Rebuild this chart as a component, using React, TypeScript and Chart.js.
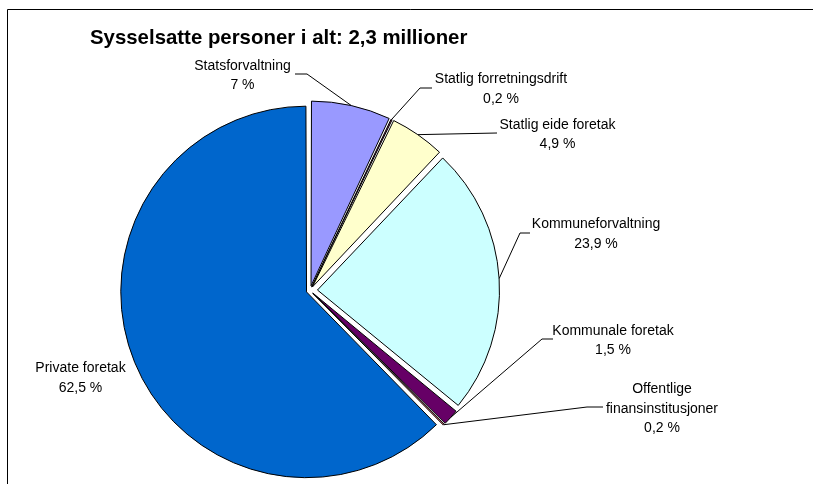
import React, { useEffect, useRef } from "react";
import { Chart, registerables } from "chart.js";

Chart.register(...registerables);

const TITLE = "Sysselsatte personer i alt: 2,3 millioner";
const categories = [
  "Statsforvaltning",
  "Statlig forretningsdrift",
  "Statlig eide foretak",
  "Kommuneforvaltning",
  "Kommunale foretak",
  "Offentlige finansinstitusjoner",
  "Private foretak",
];
const shares = [7, 0.2, 4.9, 23.9, 1.5, 0.2, 62.5];
const labelText = [
  ["Statsforvaltning"],
  ["Statlig forretningsdrift"],
  ["Statlig eide foretak"],
  ["Kommuneforvaltning"],
  ["Kommunale foretak"],
  ["Offentlige", "finansinstitusjoner"],
  ["Private foretak"],
];
const colors = ["#9999FF", "#993366", "#FFFFCC", "#CCFFFF", "#660066", "#FF8080", "#0066CC"];

// layout (label anchor positions and leader elbows)
const labelLayout = [
  { x: 242.5, y: 70, lh: 18.5, leader: [[295, 74], [307, 74]] },
  { x: 501, y: 83, lh: 20, leader: [[432, 88], [420, 88]] },
  { x: 557.5, y: 129, lh: 19, leader: [[497, 133]] },
  { x: 596, y: 228, lh: 20, leader: [[530, 233], [520, 233]] },
  { x: 613, y: 335, lh: 19, leader: [[553, 339], [542, 339]] },
  { x: 662, y: 393, lh: 19.5, leader: [[603, 407], [587, 407]] },
  { x: 80.5, y: 372, lh: 20, leader: [] },
];
const SHIFT = 7.5;
const FONT = '"Liberation Sans", Arial, sans-serif';

const fmt = (v: number) => String(v).replace(".", ",") + " %";

export default function App() {
  const ref = useRef<HTMLCanvasElement | null>(null);
  useEffect(() => {
    if (!ref.current) return;
    const total = shares.reduce((a, b) => a + b, 0);
    const overlay = {
      id: "overlay",
      afterDraw(chart: any) {
        const ctx = chart.ctx;
        ctx.save();
        // frame
        ctx.strokeStyle = "#000";
        ctx.lineWidth = 1;
        ctx.beginPath();
        ctx.moveTo(7.5, 484);
        ctx.lineTo(7.5, 9.5);
        ctx.lineTo(813, 9.5);
        ctx.stroke();
        // title
        ctx.fillStyle = "#000";
        ctx.font = `bold 20.4px ${FONT}`;
        ctx.textAlign = "left";
        ctx.textBaseline = "alphabetic";
        ctx.fillText(TITLE, 90, 44);
        // leaders & labels
        const meta = chart.getDatasetMeta(0);
        meta.data.forEach((arc: any, i: number) => {
          const L = labelLayout[i];
          const mid = (arc.startAngle + arc.endAngle) / 2;
          const circ = arc.endAngle - arc.startAngle;
          const off = (arc.options.offset || 0) / 4;
          const fix = 1 - Math.sin(Math.min(Math.PI, circ));
          const t = off + off * fix;
          const px = arc.x + Math.cos(mid) * (t + arc.outerRadius);
          const py = arc.y + Math.sin(mid) * (t + arc.outerRadius);
          if (L.leader.length) {
            ctx.strokeStyle = "#000";
            ctx.lineWidth = 1;
            ctx.beginPath();
            ctx.moveTo(L.leader[0][0], L.leader[0][1]);
            for (let k = 1; k < L.leader.length; k++) ctx.lineTo(L.leader[k][0], L.leader[k][1]);
            ctx.lineTo(px, py);
            ctx.stroke();
          }
          ctx.font = `14px ${FONT}`;
          ctx.textAlign = "center";
          ctx.fillStyle = "#000";
          const lines = [...labelText[i], fmt(shares[i])];
          lines.forEach((s, k) => ctx.fillText(s, L.x, L.y + k * L.lh));
        });
        ctx.restore();
      },
    };
    const chart = new Chart(ref.current, {
      type: "pie",
      data: {
        labels: categories,
        datasets: [
          {
            data: shares,
            backgroundColor: colors,
            borderColor: "#000",
            borderWidth: 1,
            radius: 182,
            clip: false,
            hoverOffset: 0,
            offset: (c: any) => {
              const v = c.dataset.data[c.dataIndex];
              const circ = (v / total) * Math.PI * 2;
              const fix = 1 - Math.sin(Math.min(Math.PI, circ));
              return (SHIFT * 4) / (1 + fix);
            },
          } as any,
        ],
      },
      options: {
        responsive: false,
        animation: false,
        events: [],
        radius: 182,
        layout: { padding: { left: 0, right: 193, top: 97, bottom: 0 } },
        plugins: { legend: { display: false }, tooltip: { enabled: false }, title: { display: false } },
      } as any,
      plugins: [overlay],
    });
    return () => chart.destroy();
  }, []);
  return (
    <div style={{ position: "fixed", left: 0, top: 0, width: 813, height: 484, background: "#fff" }}>
      <canvas ref={ref} width={813} height={484} style={{ display: "block" }} />
    </div>
  );
}
